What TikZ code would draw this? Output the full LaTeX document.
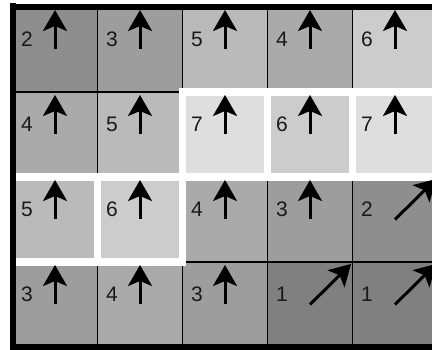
\documentclass[tikz,border=0pt]{standalone}
\usepackage{fontspec}
\setmainfont{Liberation Sans}
\usetikzlibrary{arrows.meta}
\definecolor{g1}{RGB}{128,128,128}
\definecolor{g2}{RGB}{142,142,142}
\definecolor{g3}{RGB}{157,157,157}
\definecolor{g4}{RGB}{170,170,170}
\definecolor{g5}{RGB}{186,186,186}
\definecolor{g6}{RGB}{204,204,204}
\definecolor{g7}{RGB}{222,222,222}
\tikzset{
  cellbox/.style={rectangle, minimum width=85pt, minimum height=85pt, inner sep=0pt, outer sep=0pt, draw=black, line width=1.1pt},
  plateau/.style={draw=white, line width=7.5pt},
  digit/.style={anchor=base west, inner sep=0pt, outer sep=0pt, font=\fontsize{21}{21}\selectfont, text=black!90},
  flow/.style={line width=3pt, -{Stealth[length=21pt,width=24pt,inset=5pt]}},
  wall/.style={line width=6.5pt, black}
}
\begin{document}
\begin{tikzpicture}[x=1pt,y={(0pt,-1pt)}]
\useasboundingbox (0,0) rectangle (432,350);
\clip (0,0) rectangle (432,350);
\foreach \i/\j/\n in {1/1/2,1/2/3,1/3/5,1/4/4,1/5/6,
                      2/1/4,2/2/5,2/3/7,2/4/6,2/5/7,
                      3/1/5,3/2/6,3/3/4,3/4/3,3/5/2,
                      4/1/3,4/2/4,4/3/3,4/4/1,4/5/1}{
  \node[cellbox, fill=g\n] (c\i\j) at ({55+85*(\j-1)}, {49.5+85*(\i-1)}) {};
}
\foreach \c in {c23,c24,c25,c31,c32}{
  \draw[plateau] (\c.north west) rectangle (\c.south east);
}
\foreach \i/\j/\n/\d in {1/1/2/u,1/2/3/u,1/3/5/u,1/4/4/u,1/5/6/u,
                      2/1/4/u,2/2/5/u,2/3/7/u,2/4/6/u,2/5/7/u,
                      3/1/5/u,3/2/6/u,3/3/4/u,3/4/3/u,3/5/2/d,
                      4/1/3/u,4/2/4/u,4/3/3/u,4/4/1/d,4/5/1/d}{
  \node[digit] (n\i\j) at ([xshift=8.5pt, yshift=-39.7pt]c\i\j.north west) {\n};
  \if\d u
    \draw[flow] (c\i\j.center) -- ([yshift=-3pt]c\i\j.north);
  \else
    \draw[flow] (c\i\j.center) -- ([xshift=-1.5pt,yshift=-2pt]c\i\j.north east);
  \fi
}
\draw[wall] ([xshift=-3pt]c11.north west) -- ([xshift=10pt]c15.north east);
\draw[wall, line width=6pt] ([yshift=3.5pt]c11.north west) -- ([yshift=-5pt]c41.south west);
\draw[wall, line width=6pt] ([xshift=-3pt]c41.south west) -- ([xshift=10pt]c45.south east);
\end{tikzpicture}
\end{document}
